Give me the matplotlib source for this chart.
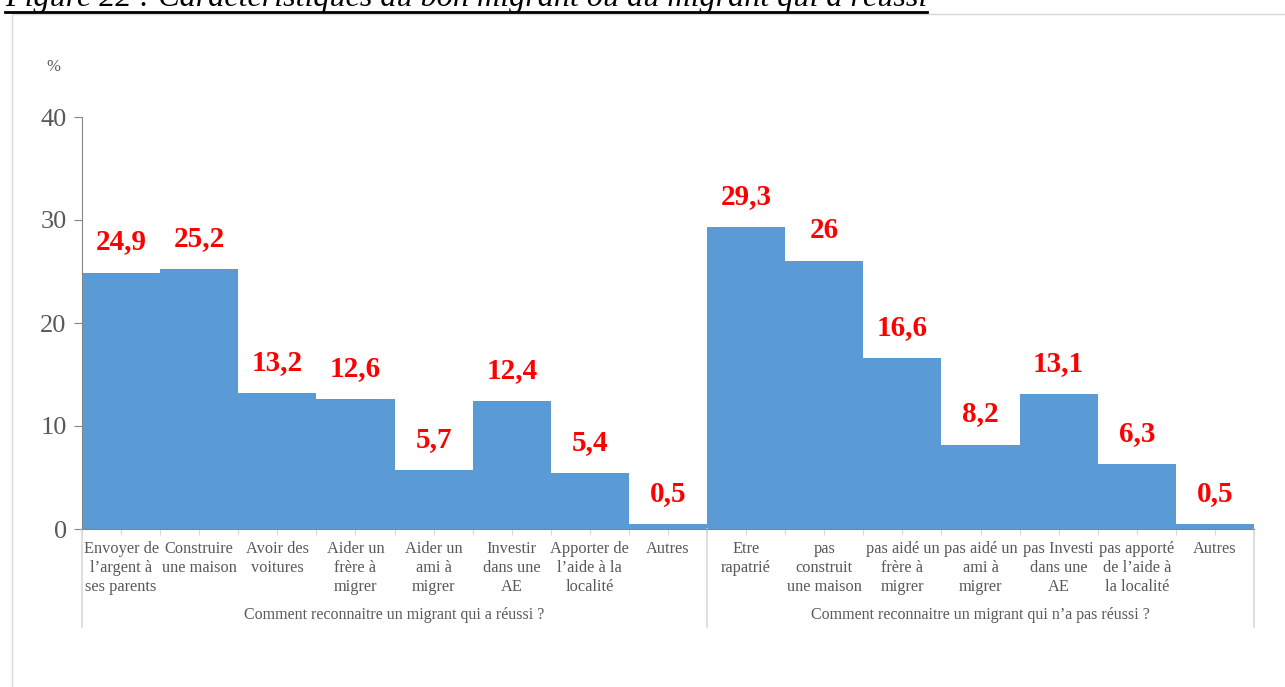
import matplotlib.pyplot as plt
from matplotlib.patches import Rectangle
from matplotlib.lines import Line2D
import matplotlib.transforms as mtransforms

plt.rcParams['font.family'] = ['Liberation Serif', 'DejaVu Serif']

# data
labels_ok = ["Envoyer de\nl\u2019argent \u00e0\nses parents", "Construire\nune maison",
             "Avoir des\nvoitures", "Aider un\nfr\u00e8re \u00e0\nmigrer", "Aider un\nami \u00e0\nmigrer",
             "Investir\ndans une\nAE", "Apporter de\nl\u2019aide \u00e0 la\nlocalit\u00e9", "Autres"]
values_ok = [24.9, 25.2, 13.2, 12.6, 5.7, 12.4, 5.4, 0.5]
labels_ko = ["Etre\nrapatri\u00e9", "pas\nconstruit\nune maison", "pas aid\u00e9 un\nfr\u00e8re \u00e0\nmigrer",
             "pas aid\u00e9 un\nami \u00e0\nmigrer", "pas Investi\ndans une\nAE",
             "pas apport\u00e9\nde l\u2019aide \u00e0\nla localit\u00e9", "Autres"]
values_ko = [29.3, 26, 16.6, 8.2, 13.1, 6.3, 0.5]
groups = ["Comment reconnaitre un migrant qui a r\u00e9ussi ?",
          "Comment reconnaitre un migrant qui n\u2019a pas r\u00e9ussi ?"]
title = "Figure 22 : Caract\u00e9ristiques du bon migrant ou du migrant qui a r\u00e9ussi"

labels = labels_ok + labels_ko
values = values_ok + values_ko
n = len(values)
xs = list(range(n))

W, H = 1285, 687
fig = plt.figure(figsize=(W / 100, H / 100), dpi=100)

# outer chart frame
fig.patches.append(Rectangle((12 / W, -0.1), 1.0, 1 - 14 / H + 0.1, transform=fig.transFigure,
                             facecolor='none', edgecolor='#d9d9d9', lw=1, zorder=-1))

ax = fig.add_axes([82 / W, 1 - 529 / H, (1254 - 82) / W, (529 - 117) / H])
ax.set_facecolor('none')
ax.bar(xs, values, width=1.0, color='#5B9BD5', zorder=2)
ax.set_xlim(-0.5, n - 0.5)
ax.set_ylim(0, 40)

for s in ['top', 'right']:
    ax.spines[s].set_visible(False)
for s in ['left', 'bottom']:
    ax.spines[s].set_color('#868686')
ax.set_yticks([0, 10, 20, 30, 40])
ax.tick_params(axis='y', labelsize=19, colors='#868686', labelcolor='#595959', length=6, pad=5)
ax.set_xticks([i - 0.5 for i in range(n + 1)] + xs)
ax.set_xticklabels([])
ax.tick_params(axis='x', length=4, colors='#d9d9d9')

# "%" label
fig.text(53 / W, 1 - 67 / H, "%", ha='center', va='center', fontsize=12, color='#595959')

# data labels
for x, v in zip(xs, values):
    ax.annotate(f"{v:g}".replace('.', ','), (x, v), xytext=(0, 22), textcoords='offset points',
                ha='center', va='center', fontsize=21, fontweight='bold', color='#FF0000',
                zorder=3)

# category labels
px = 1 / (529 - 117)
trans = mtransforms.blended_transform_factory(ax.transData, ax.transAxes)
for x, lab in zip(xs, labels):
    ax.text(x, -(541 - 529) * px, lab, transform=trans, ha='center', va='top',
            fontsize=11.8, color='#595959', linespacing=1.25)

# group separators and labels
bounds = [-0.5, len(values_ok) - 0.5, n - 0.5]
for b in bounds:
    ax.add_line(Line2D([b, b], [0, -(627 - 529) * px], transform=trans, color='#d9d9d9',
                       lw=1.2, clip_on=False))
for g, (a, b) in enumerate(zip(bounds[:-1], bounds[1:])):
    ax.text((a + b) / 2, -(615 - 529) * px, groups[g], transform=trans, ha='center',
            va='center', fontsize=11.5, color='#595959')

# title (cut at top) with underline
t = fig.text(5 / W, 1 - 6 / H, title, ha='left', va='baseline', fontsize=23.1,
             style='italic', color='black')
fig.canvas.draw()
bb = t.get_window_extent()
fig.add_artist(Line2D([bb.x0 / W, bb.x1 / W], [1 - 12 / H, 1 - 12 / H],
                      transform=fig.transFigure, color='black', lw=2))

fig.savefig('out.png', dpi=100)
